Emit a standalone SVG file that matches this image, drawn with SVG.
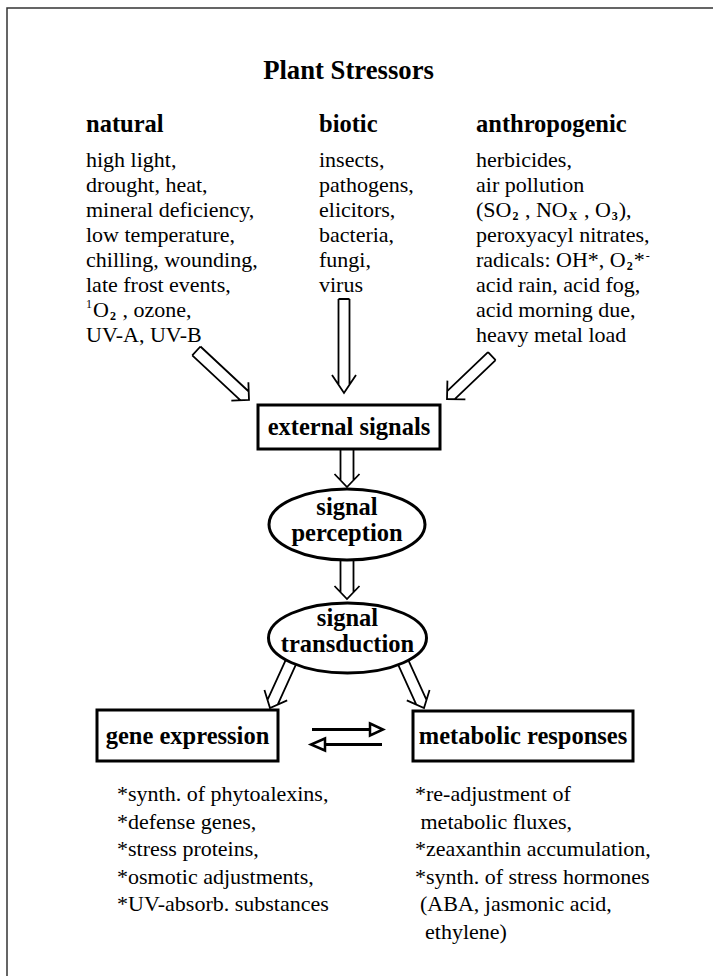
<svg xmlns="http://www.w3.org/2000/svg" width="718" height="976" viewBox="0 0 718 976">
<style>
text{font-family:"Liberation Serif","Times New Roman",serif;fill:#000}
.t{font-size:26.7px;font-weight:bold}
.h{font-size:24.5px;font-weight:bold}
.b{font-size:22px}
.n{font-size:24.5px;font-weight:bold;text-anchor:middle}
.s{font-size:12px}
.box{fill:#fff;stroke:#000;stroke-width:3}
.arr{fill:none;stroke:#000;stroke-width:1.8;stroke-linejoin:miter}
.eq{fill:none;stroke:#000;stroke-width:3}
.eqh{fill:#fff;stroke:#000;stroke-width:2.5;stroke-linejoin:miter}
.frame{fill:none;stroke:#333;stroke-width:1.5}
</style>
<rect width="718" height="976" fill="#fff"/>
<path class="frame" d="M7,976 V8 H713"/>
<g id="title"><text class="t" x="348.5" y="79" text-anchor="middle">Plant Stressors</text></g>
<g id="natural">
<text class="h" x="86" y="132">natural</text>
<text class="b" x="86" y="167">high light,</text>
<text class="b" x="86" y="192">drought, heat,</text>
<text class="b" x="86" y="217">mineral deficiency,</text>
<text class="b" x="86" y="242">low temperature,</text>
<text class="b" x="86" y="267">chilling, wounding,</text>
<text class="b" x="86" y="292">late frost events,</text>
<text class="b" x="86" y="317"><tspan class="s" dy="-9">1</tspan><tspan dx="1" dy="9">O</tspan><tspan class="s" dx="1" dy="3" font-weight="bold">2</tspan><tspan dx="1" dy="-3"> , ozone,</tspan></text>
<text class="b" x="86" y="342">UV-A, UV-B</text>
</g>
<g id="biotic">
<text class="h" x="319" y="132">biotic</text>
<text class="b" x="319" y="167">insects,</text>
<text class="b" x="319" y="192">pathogens,</text>
<text class="b" x="319" y="217">elicitors,</text>
<text class="b" x="319" y="242">bacteria,</text>
<text class="b" x="319" y="267">fungi,</text>
<text class="b" x="319" y="292">virus</text>
</g>
<g id="anthropogenic">
<text class="h" x="476" y="132">anthropogenic</text>
<text class="b" x="476" y="167">herbicides,</text>
<text class="b" x="476" y="192">air pollution</text>
<text class="b" x="476" y="217">(SO<tspan class="s" dx="1" dy="3" font-weight="bold">2</tspan><tspan dx="1" dy="-3"> , NO</tspan><tspan class="s" dx="1" dy="3" font-weight="bold">X</tspan><tspan dx="1" dy="-3"> , O</tspan><tspan class="s" dx="1" dy="3" font-weight="bold">3</tspan><tspan dx="1" dy="-3">),</tspan></text>
<text class="b" x="476" y="242">peroxyacyl nitrates,</text>
<text class="b" x="476" y="267">radicals: OH*, O<tspan class="s" dx="1" dy="3" font-weight="bold">2</tspan><tspan dx="1" dy="-3">*</tspan><tspan class="s" dx="1" dy="-7">-</tspan></text>
<text class="b" x="476" y="292">acid rain, acid fog,</text>
<text class="b" x="476" y="317">acid morning due,</text>
<text class="b" x="476" y="342">heavy metal load</text>
</g>
<g id="connectors">
<path class="arr" transform="translate(249,400) rotate(-47)" d="M-6,-72 H6 M-6,-72 V-6 M6,-72 V-6 M-12.5,-12.5 L0,0 L12.5,-12.5"/>
<path class="arr" transform="translate(344,393)" d="M-5.5,-94 H5.5 M-5.5,-94 V-8.2 M5.5,-94 V-8.2 M-12,-18 L0,0 L12,-18"/>
<path class="arr" transform="translate(447,399) rotate(46.3)" d="M-5.5,-62 H5.5 M-5.5,-62 V-5.5 M5.5,-62 V-5.5 M-13,-13 L0,0 L13,-13"/>
<path class="arr" transform="translate(347,487)" d="M-6.5,-42 V-6.8 M6.5,-42 V-6.8 M-12.5,-13 L0,0 L12.5,-13"/>
<path class="arr" transform="translate(347,599)" d="M-6.5,-44 V-6.8 M6.5,-44 V-6.8 M-12.5,-13 L0,0 L12.5,-13"/>
<path class="arr" transform="translate(270,708) rotate(24.5)" d="M-5.6,-60 V-6.3 M5.6,-60 V-6.3 M-12.5,-14 L0,0 L12.5,-14"/>
<path class="arr" transform="translate(424,708) rotate(-24.5)" d="M-5.6,-60 V-6.3 M5.6,-60 V-6.3 M-12.5,-14 L0,0 L12.5,-14"/>
<path class="eq" d="M312,729.5 H370"/>
<polygon class="eqh" points="370,723.5 383,729.5 370,735.5"/>
<path class="eq" d="M325,744.5 H382"/>
<polygon class="eqh" points="325,738.5 311,744.5 325,750.5"/>
</g>
<g id="external-signals">
<rect class="box" x="258" y="405" width="182" height="44"/>
<text class="n" x="349" y="435">external signals</text>
</g>
<g id="signal-perception">
<ellipse class="box" cx="347" cy="524.5" rx="78" ry="35.5"/>
<text class="n" x="347" y="515">signal</text>
<text class="n" x="347" y="541">perception</text>
</g>
<g id="signal-transduction">
<ellipse class="box" cx="347.5" cy="638" rx="79" ry="35"/>
<text class="n" x="347.5" y="626">signal</text>
<text class="n" x="347.5" y="652">transduction</text>
</g>
<g id="gene-expression">
<rect class="box" x="97" y="710" width="181" height="51"/>
<text class="n" x="187.5" y="744">gene expression</text>
</g>
<g id="metabolic-responses">
<rect class="box" x="413" y="711" width="220" height="50"/>
<text class="n" x="523" y="744">metabolic responses</text>
</g>
<g id="gene-list">
<text class="b" x="117" y="801">*synth. of phytoalexins,</text>
<text class="b" x="117" y="828.5">*defense genes,</text>
<text class="b" x="117" y="856">*stress proteins,</text>
<text class="b" x="117" y="883.5">*osmotic adjustments,</text>
<text class="b" x="117" y="911">*UV-absorb. substances</text>
</g>
<g id="metabolic-list">
<text class="b" x="415" y="801">*re-adjustment of</text>
<text class="b" x="420.5" y="828.5">metabolic fluxes,</text>
<text class="b" x="415" y="856">*zeaxanthin accumulation,</text>
<text class="b" x="415" y="883.5">*synth. of stress hormones</text>
<text class="b" x="420" y="911">(ABA, jasmonic acid,</text>
<text class="b" x="425" y="938.5">ethylene)</text>
</g>
</svg>
